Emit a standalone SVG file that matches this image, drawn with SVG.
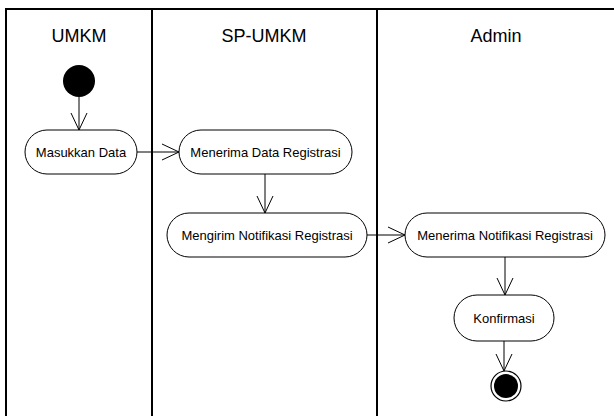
<svg xmlns="http://www.w3.org/2000/svg" width="614" height="416" viewBox="0 0 614 416">
<style>
.lane{stroke:#000;stroke-width:2;fill:none}
.hdr{font-family:"Liberation Sans",Arial,sans-serif;font-size:18px;fill:#000;text-anchor:middle}
.act{fill:#fff;stroke:#000;stroke-width:1}
.lbl{font-family:"Liberation Sans",Arial,sans-serif;font-size:13px;fill:#000;text-anchor:middle;dominant-baseline:central}
.flow{stroke:#000;stroke-width:1;fill:none;marker-end:url(#open)}
</style>
<defs>
<marker id="open" viewBox="0 0 20 20" refX="18" refY="10" markerWidth="20" markerHeight="20" markerUnits="userSpaceOnUse" orient="auto">
<path d="M1,2 L18,10 L1,18" fill="none" stroke="#000" stroke-width="1"/>
</marker>
</defs>
<rect width="614" height="416" fill="#fff"/>
<g id="lanes">
<path class="lane" d="M6,417 V9 H614 M152,9 V417 M377,9 V417"/>
<text class="hdr" x="79" y="42">UMKM</text>
<text class="hdr" x="264" y="42">SP-UMKM</text>
<text class="hdr" x="496" y="42">Admin</text>
</g>
<g id="connectors">
<path class="flow" d="M79,97 V130"/>
<path class="flow" d="M137,152 H179"/>
<path class="flow" d="M265,174 V213"/>
<path class="flow" d="M367,235 H405"/>
<path class="flow" d="M505,257 V295"/>
<path class="flow" d="M504,341 V371"/>
</g>
<g id="start"><circle cx="79" cy="81" r="16" fill="#000"/></g>
<g id="masukkan"><rect class="act" x="25" y="130" width="112" height="44" rx="22"/><text class="lbl" x="81" y="152">Masukkan Data</text></g>
<g id="menerimaData"><rect class="act" x="179" y="130" width="173" height="44" rx="22"/><text class="lbl" x="265.5" y="152">Menerima Data Registrasi</text></g>
<g id="mengirim"><rect class="act" x="167" y="213" width="200" height="44" rx="22"/><text class="lbl" x="267" y="235">Mengirim Notifikasi Registrasi</text></g>
<g id="menerimaNotif"><rect class="act" x="405" y="213" width="200" height="44" rx="22"/><text class="lbl" x="505" y="235">Menerima Notifikasi Registrasi</text></g>
<g id="konfirmasi"><rect class="act" x="454" y="295" width="100" height="46" rx="23"/><text class="lbl" x="504" y="318">Konfirmasi</text></g>
<g id="end"><circle cx="506" cy="386" r="15" fill="#fff" stroke="#000" stroke-width="1.2"/><circle cx="506" cy="386" r="12" fill="#000"/></g>
</svg>
